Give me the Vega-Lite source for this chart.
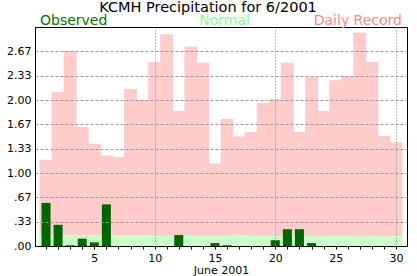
{
  "$schema": "https://vega.github.io/schema/vega-lite/v6.json",
  "width": 372,
  "height": 219,
  "autosize": "none",
  "padding": {"left": 35, "top": 27, "right": 10, "bottom": 30},
  "background": "white",
  "config": {
    "font": "DejaVu Sans",
    "view": {"stroke": "black", "strokeWidth": 1}
  },
  "title": {
    "text": "KCMH Precipitation for 6/2001",
    "font": "DejaVu Sans",
    "fontSize": 14.5,
    "fontWeight": "normal",
    "color": "black",
    "anchor": "middle",
    "frame": "group",
    "dx": -13,
    "dy": 3,
    "offset": 2
  },
  "data": {
    "values": [
      {"day": 1, "record": 1.18, "normal": 0.15, "observed": 0.59},
      {"day": 2, "record": 2.11, "normal": 0.15, "observed": 0.29},
      {"day": 3, "record": 2.67, "normal": 0.15, "observed": 0.01},
      {"day": 4, "record": 1.63, "normal": 0.15, "observed": 0.10},
      {"day": 5, "record": 1.40, "normal": 0.15, "observed": 0.05},
      {"day": 6, "record": 1.24, "normal": 0.15, "observed": 0.57},
      {"day": 7, "record": 1.22, "normal": 0.15, "observed": 0},
      {"day": 8, "record": 2.15, "normal": 0.15, "observed": 0},
      {"day": 9, "record": 2.00, "normal": 0.15, "observed": 0},
      {"day": 10, "record": 2.52, "normal": 0.14, "observed": 0},
      {"day": 11, "record": 2.90, "normal": 0.14, "observed": 0},
      {"day": 12, "record": 1.85, "normal": 0.14, "observed": 0.15},
      {"day": 13, "record": 2.73, "normal": 0.14, "observed": 0},
      {"day": 14, "record": 2.51, "normal": 0.14, "observed": 0},
      {"day": 15, "record": 1.13, "normal": 0.14, "observed": 0.04},
      {"day": 16, "record": 1.74, "normal": 0.14, "observed": 0.01},
      {"day": 17, "record": 1.50, "normal": 0.15, "observed": 0},
      {"day": 18, "record": 1.56, "normal": 0.14, "observed": 0},
      {"day": 19, "record": 1.96, "normal": 0.14, "observed": 0},
      {"day": 20, "record": 2.01, "normal": 0.14, "observed": 0.08},
      {"day": 21, "record": 2.51, "normal": 0.14, "observed": 0.23},
      {"day": 22, "record": 1.56, "normal": 0.14, "observed": 0.23},
      {"day": 23, "record": 2.32, "normal": 0.14, "observed": 0.04},
      {"day": 24, "record": 1.85, "normal": 0.14, "observed": 0},
      {"day": 25, "record": 2.27, "normal": 0.14, "observed": 0},
      {"day": 26, "record": 2.33, "normal": 0.14, "observed": 0},
      {"day": 27, "record": 2.92, "normal": 0.13, "observed": 0},
      {"day": 28, "record": 2.52, "normal": 0.14, "observed": 0},
      {"day": 29, "record": 1.51, "normal": 0.13, "observed": 0},
      {"day": 30, "record": 1.42, "normal": 0.14, "observed": 0}
    ]
  },
  "layer": [
    {
      "mark": {"type": "bar", "color": "#ffcccc", "size": 13},
      "encoding": {
        "x": {
          "field": "day",
          "type": "quantitative",
          "scale": {"domain": [0.5, 30.5], "nice": false, "zero": false},
          "axis": {
            "title": "June 2001",
            "titleFontSize": 11,
            "titleFontWeight": "normal",
            "titleColor": "black",
            "titlePadding": 1,
            "values": [1,2,3,4,5,6,7,8,9,10,11,12,13,14,15,16,17,18,19,20,21,22,23,24,25,26,27,28,29,30],
            "tickCount": 100,
            "labelExpr": "datum.value % 5 == 0 ? format(datum.value, 'd') : ''",
            "labelFontSize": 11,
            "labelColor": "black",
            "labelPadding": 3,
            "labelFlush": false,
            "labelOverlap": false,
            "tickSize": 3,
            "tickColor": "black",
            "domainColor": "black",
            "grid": true,
            "gridColor": "#888888",
            "gridDash": [1, 2],
            "gridOpacity": {"condition": {"test": "datum.value % 10 == 0", "value": 1}, "value": 0},
            "zindex": 1
          }
        },
        "y": {
          "field": "record",
          "type": "quantitative",
          "scale": {"domain": [0, 3], "nice": false},
          "axis": {
            "title": null,
            "values": [0, 0.33333, 0.66667, 1, 1.33333, 1.66667, 2, 2.33333, 2.66667],
            "tickCount": 100,
            "labelExpr": "datum.value < 1 ? substring(format(datum.value, '.2f'), 1) : format(datum.value, '.2f')",
            "labelFontSize": 11,
            "labelColor": "black",
            "labelPadding": 4,
            "labelOverlap": false,
            "ticks": false,
            "tickSize": 0,
            "domainColor": "black",
            "grid": true,
            "gridColor": "#999999",
            "gridDash": [3, 2],
            "zindex": 1
          }
        }
      }
    },
    {
      "mark": {"type": "bar", "color": "#ccffcc", "size": 13},
      "encoding": {
        "x": {"field": "day", "type": "quantitative"},
        "y": {"field": "normal", "type": "quantitative"}
      }
    },
    {
      "mark": {"type": "bar", "color": "#006600", "size": 9},
      "encoding": {
        "x": {"field": "day", "type": "quantitative"},
        "y": {"field": "observed", "type": "quantitative"}
      }
    },
    {
      "data": {"values": [{"label": "Observed"}]},
      "mark": {"type": "text", "align": "left", "baseline": "alphabetic", "fontSize": 14, "fontWeight": "normal", "color": "#007700", "dy": -2},
      "encoding": {"text": {"field": "label"}, "x": {"datum": 0.5}, "y": {"datum": 3}}
    },
    {
      "data": {"values": [{"label": "Normal"}]},
      "mark": {"type": "text", "align": "center", "baseline": "alphabetic", "fontSize": 14, "fontWeight": "normal", "color": "#88ff88", "dy": -2},
      "encoding": {"text": {"field": "label"}, "x": {"datum": 15.8}, "y": {"datum": 3}}
    },
    {
      "data": {"values": [{"label": "Daily Record"}]},
      "mark": {"type": "text", "align": "right", "baseline": "alphabetic", "fontSize": 14, "fontWeight": "normal", "color": "#ff8888", "dy": -2},
      "encoding": {"text": {"field": "label"}, "x": {"datum": 30.5}, "y": {"datum": 3}}
    }
  ]
}
